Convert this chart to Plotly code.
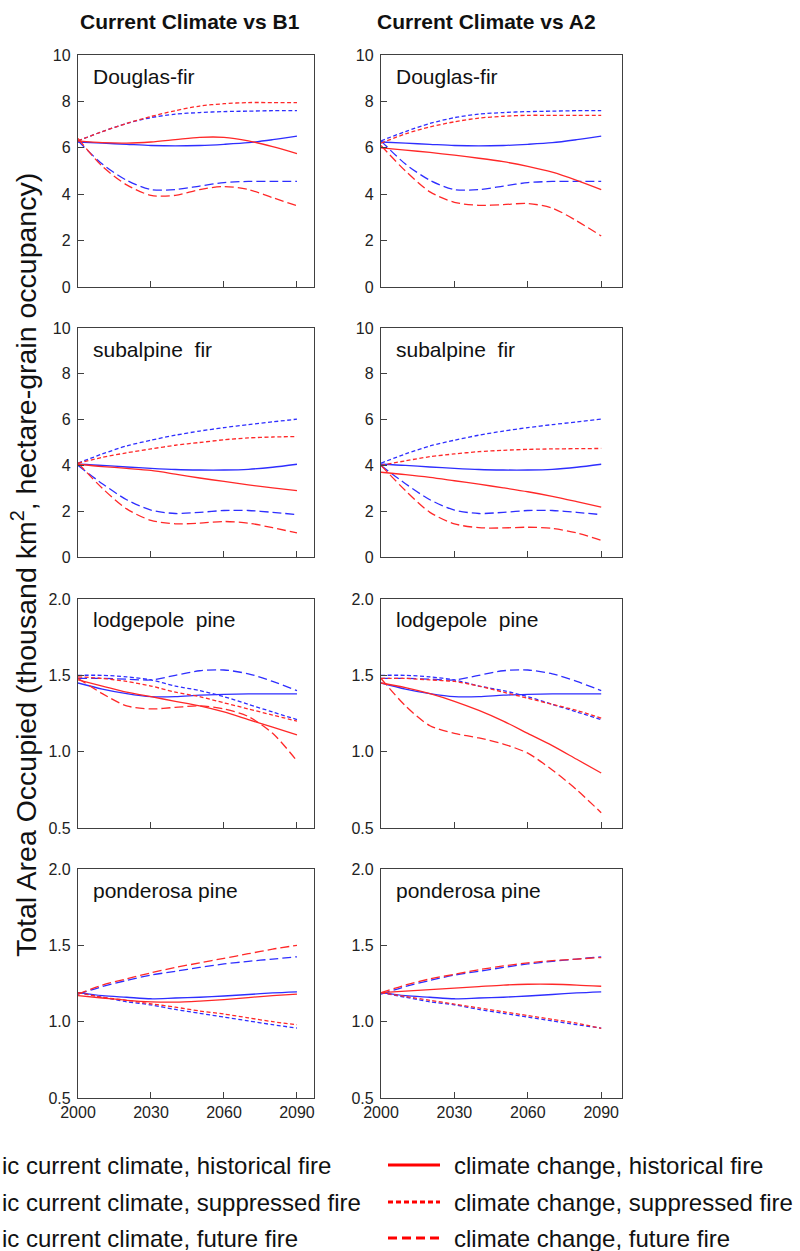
import plotly.graph_objects as go

W, H = 800, 1251
years = [2000, 2010, 2020, 2030, 2040, 2050, 2060, 2070, 2080, 2090]

# ---- Current climate (blue), identical in both columns ----
df_cur_hist = [6.25, 6.2, 6.15, 6.1, 6.08, 6.1, 6.15, 6.22, 6.35, 6.5]
df_cur_supp = [6.3, 6.7, 7.05, 7.3, 7.45, 7.52, 7.56, 7.58, 7.6, 7.6]
df_cur_fut = [6.3, 5.3, 4.6, 4.2, 4.2, 4.35, 4.5, 4.55, 4.55, 4.55]
sf_cur_hist = [4.05, 4.0, 3.93, 3.87, 3.82, 3.8, 3.8, 3.83, 3.92, 4.05]
sf_cur_supp = [4.1, 4.5, 4.85, 5.1, 5.32, 5.5, 5.65, 5.78, 5.9, 6.02]
sf_cur_fut = [4.0, 3.2, 2.5, 2.05, 1.9, 1.95, 2.03, 2.03, 1.95, 1.85]
lp_cur_hist = [1.45, 1.41, 1.38, 1.36, 1.36, 1.37, 1.375, 1.378, 1.378, 1.378]
lp_cur_supp = [1.5, 1.5, 1.49, 1.47, 1.43, 1.4, 1.36, 1.31, 1.26, 1.21]
lp_cur_fut = [1.48, 1.48, 1.475, 1.47, 1.5, 1.53, 1.535, 1.51, 1.46, 1.40]
pp_cur_hist = [1.19, 1.17, 1.16, 1.15, 1.155, 1.16, 1.168, 1.178, 1.188, 1.195]
pp_cur_supp = [1.19, 1.16, 1.13, 1.11, 1.08, 1.055, 1.03, 1.005, 0.98, 0.958]
pp_cur_fut = [1.18, 1.23, 1.27, 1.305, 1.33, 1.355, 1.378, 1.395, 1.41, 1.425]

# ---- Climate change B1 (red) ----
df_b1_hist = [6.3, 6.22, 6.2, 6.25, 6.35, 6.45, 6.45, 6.3, 6.05, 5.75]
df_b1_supp = [6.3, 6.7, 7.05, 7.35, 7.6, 7.8, 7.9, 7.95, 7.95, 7.95]
df_b1_fut = [6.4, 5.2, 4.4, 3.95, 3.95, 4.2, 4.33, 4.2, 3.85, 3.5]
sf_b1_hist = [4.05, 3.95, 3.87, 3.78, 3.62, 3.45, 3.3, 3.15, 3.02, 2.9]
sf_b1_supp = [4.1, 4.35, 4.55, 4.72, 4.88, 5.0, 5.12, 5.2, 5.24, 5.26]
sf_b1_fut = [4.1, 3.0, 2.1, 1.6, 1.45, 1.48, 1.55, 1.48, 1.28, 1.05]
lp_b1_hist = [1.47, 1.43, 1.39, 1.36, 1.33, 1.3, 1.26, 1.21, 1.16, 1.11]
lp_b1_supp = [1.49, 1.48, 1.46, 1.43, 1.39, 1.36, 1.32, 1.28, 1.24, 1.2]
lp_b1_fut = [1.48, 1.38, 1.3, 1.28, 1.29, 1.3, 1.28, 1.23, 1.12, 0.94]
pp_b1_hist = [1.17, 1.155, 1.14, 1.13, 1.128, 1.135, 1.145, 1.158, 1.17, 1.18]
pp_b1_supp = [1.19, 1.16, 1.14, 1.117, 1.095, 1.07, 1.05, 1.025, 1.0, 0.98]
pp_b1_fut = [1.18, 1.24, 1.28, 1.32, 1.355, 1.385, 1.415, 1.445, 1.475, 1.5]

# ---- Climate change A2 (red) ----
df_a2_hist = [6.0, 5.9, 5.8, 5.68, 5.55, 5.4, 5.2, 4.95, 4.6, 4.2]
df_a2_supp = [6.2, 6.6, 6.9, 7.12, 7.28, 7.36, 7.4, 7.4, 7.4, 7.4]
df_a2_fut = [6.1, 5.0, 4.1, 3.65, 3.52, 3.55, 3.6, 3.4, 2.85, 2.2]
sf_a2_hist = [3.7, 3.6, 3.48, 3.33, 3.18, 3.02, 2.85, 2.65, 2.42, 2.18]
sf_a2_supp = [4.0, 4.2, 4.38, 4.5, 4.6, 4.66, 4.7, 4.72, 4.73, 4.74]
sf_a2_fut = [4.0, 2.9, 1.95, 1.45, 1.28, 1.27, 1.3, 1.25, 1.05, 0.73]
lp_a2_hist = [1.45, 1.42, 1.38, 1.33, 1.27, 1.2, 1.12, 1.04, 0.95, 0.86]
lp_a2_supp = [1.48, 1.48, 1.47, 1.46, 1.43, 1.39, 1.35, 1.31, 1.27, 1.22]
lp_a2_fut = [1.48, 1.3, 1.17, 1.12, 1.09, 1.05, 0.99, 0.88, 0.75, 0.6]
pp_a2_hist = [1.19, 1.2, 1.21, 1.22, 1.23, 1.24, 1.245, 1.245, 1.24, 1.232]
pp_a2_supp = [1.19, 1.165, 1.14, 1.115, 1.09, 1.065, 1.04, 1.015, 0.99, 0.956]
pp_a2_fut = [1.19, 1.24, 1.28, 1.31, 1.34, 1.365, 1.385, 1.4, 1.41, 1.42]

species = ["Douglas-fir", "subalpine  fir", "lodgepole  pine", "ponderosa pine"]
col_titles = ["Current Climate vs B1", "Current Climate vs A2"]
x_ticks = [2000, 2030, 2060, 2090]
y_ranges = [[0, 10], [0, 10], [0.5, 2.0], [0.5, 2.0]]
y_tickvals = [[0, 2, 4, 6, 8, 10], [0, 2, 4, 6, 8, 10], [0.5, 1.0, 1.5, 2.0], [0.5, 1.0, 1.5, 2.0]]
y_ticktext = [["0", "2", "4", "6", "8", "10"], ["0", "2", "4", "6", "8", "10"],
              ["0.5", "1.0", "1.5", "2.0"], ["0.5", "1.0", "1.5", "2.0"]]
legend_left = ["ic current climate, historical fire",
               "ic current climate, suppressed fire",
               "ic current climate, future fire"]
legend_right = ["climate change, historical fire",
                "climate change, suppressed fire",
                "climate change, future fire"]

current = [
    (df_cur_hist, df_cur_supp, df_cur_fut),
    (sf_cur_hist, sf_cur_supp, sf_cur_fut),
    (lp_cur_hist, lp_cur_supp, lp_cur_fut),
    (pp_cur_hist, pp_cur_supp, pp_cur_fut),
]
change = [
    [(df_b1_hist, df_b1_supp, df_b1_fut), (df_a2_hist, df_a2_supp, df_a2_fut)],
    [(sf_b1_hist, sf_b1_supp, sf_b1_fut), (sf_a2_hist, sf_a2_supp, sf_a2_fut)],
    [(lp_b1_hist, lp_b1_supp, lp_b1_fut), (lp_a2_hist, lp_a2_supp, lp_a2_fut)],
    [(pp_b1_hist, pp_b1_supp, pp_b1_fut), (pp_a2_hist, pp_a2_supp, pp_a2_fut)],
]

BLUE = "#2e2eff"
RED = "#ff2828"
DASHES = ["solid", "4px,2.5px", "9px,4px"]
LW = 1.3
FRAME = "#404040"
FONT = "Liberation Sans, Arial, sans-serif"

# pixel geometry
col_px = [(78, 314), (381, 622)]
row_px = [(55, 287), (328, 557), (599, 828), (869, 1098)]
x_max = [2097, 2098.5]

def fx(px):
    return px / W

def fy(py):
    return 1 - py / H

fig = go.Figure()
layout = dict(
    width=W, height=H, margin=dict(l=0, r=0, t=0, b=0, autoexpand=False),
    paper_bgcolor="white", plot_bgcolor="white", showlegend=False,
    font=dict(family=FONT, color="#111111"),
)
annotations = []
shapes = []

idx = 0
for r in range(4):
    for c in range(2):
        idx += 1
        xa = "xaxis" if idx == 1 else f"xaxis{idx}"
        ya = "yaxis" if idx == 1 else f"yaxis{idx}"
        xr = "x" if idx == 1 else f"x{idx}"
        yr = "y" if idx == 1 else f"y{idx}"
        layout[xa] = dict(
            domain=[fx(col_px[c][0]), fx(col_px[c][1])], anchor=yr,
            range=[2000, x_max[c]], tickvals=x_ticks,
            ticktext=[str(v) for v in x_ticks],
            showticklabels=(r == 3), automargin=False,
            ticks="inside", ticklen=6, tickcolor=FRAME, tickwidth=1.2,
            showline=True, linecolor=FRAME, linewidth=1.3, mirror=True,
            showgrid=False, zeroline=False,
            tickfont=dict(size=16, color="#222222"),
        )
        layout[ya] = dict(
            domain=[fy(row_px[r][1]), fy(row_px[r][0])], anchor=xr,
            range=y_ranges[r], tickvals=y_tickvals[r], ticktext=y_ticktext[r],
            automargin=False, ticklabelstandoff=3,
            ticks="inside", ticklen=6, tickcolor=FRAME, tickwidth=1.2,
            showline=True, linecolor=FRAME, linewidth=1.3, mirror=True,
            showgrid=False, zeroline=False,
            tickfont=dict(size=16, color="#222222"),
        )
        series = []
        for k in range(3):
            series.append((current[r][k], BLUE, DASHES[k]))
        for k in range(3):
            series.append((change[r][c][k], RED, DASHES[k]))
        for vals, colr, dsh in series:
            fig.add_trace(go.Scatter(
                x=years, y=vals, mode="lines", xaxis=xr, yaxis=yr,
                line=dict(color=colr, width=LW, dash=dsh, shape="spline", smoothing=0.8),
                hoverinfo="skip",
            ))
        annotations.append(dict(
            x=fx(col_px[c][0] + 13), y=fy(row_px[r][0] + 21),
            xref="paper", yref="paper", xanchor="left", yanchor="middle",
            text=species[r], showarrow=False,
            font=dict(size=21, color="#111111", family=FONT),
        ))

# column titles
for c in range(2):
    annotations.append(dict(
        x=fx([190, 486][c]), y=fy(21), xref="paper", yref="paper",
        xanchor="center", yanchor="middle", text="<b>" + col_titles[c] + "</b>",
        showarrow=False, font=dict(size=21, color="#111111", family=FONT),
    ))

# y axis title
annotations.append(dict(
    x=fx(24), y=fy(565), xref="paper", yref="paper", xanchor="center", yanchor="middle",
    text="Total Area Occupied (thousand km<sup>2</sup>, hectare-grain occupancy)",
    textangle=-90, showarrow=False, font=dict(size=28.5, color="#111111", family=FONT),
))

# legend
leg_rows = [1165, 1202, 1238]
for i in range(3):
    annotations.append(dict(
        x=0, y=fy(leg_rows[i]), xref="paper", yref="paper", xanchor="left", yanchor="middle",
        text=legend_left[i], showarrow=False, font=dict(size=24, color="#111111", family=FONT),
    ))
    annotations.append(dict(
        x=fx(452), y=fy(leg_rows[i]), xref="paper", yref="paper", xanchor="left", yanchor="middle",
        text=legend_right[i], showarrow=False, font=dict(size=24, color="#111111", family=FONT),
    ))
    shapes.append(dict(
        type="line", xref="paper", yref="paper",
        x0=fx(388), x1=fx(440), y0=fy(leg_rows[i]), y1=fy(leg_rows[i]),
        line=dict(color="#ff0000", width=3, dash=["solid", "5px,3px", "9px,5px"][i]),
    ))

layout["annotations"] = annotations
layout["shapes"] = shapes
fig.update_layout(**layout)
fig.write_html("out.html", config={"displayModeBar": False},
               post_script="document.body.style.margin='0px';")
